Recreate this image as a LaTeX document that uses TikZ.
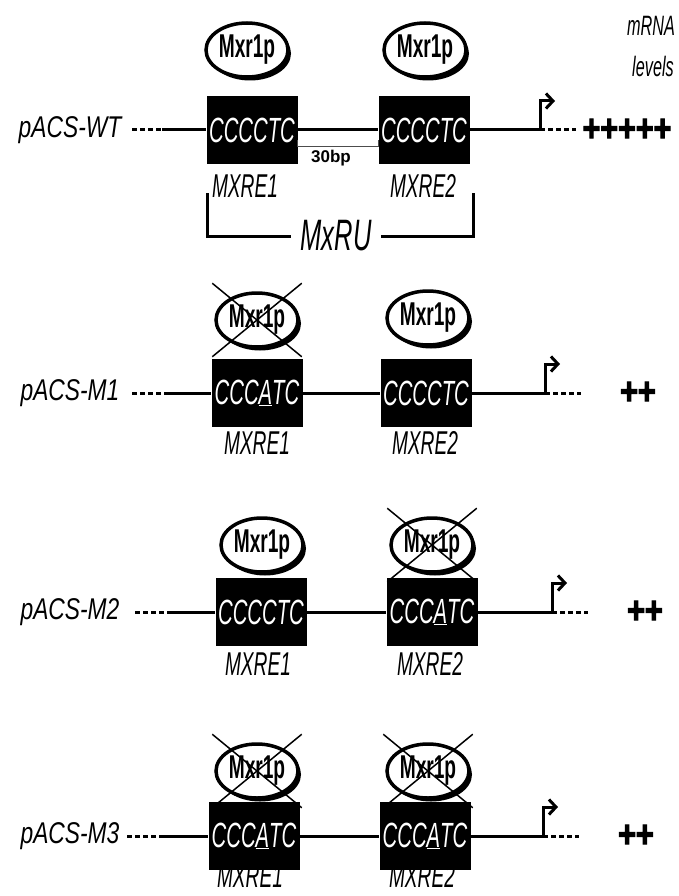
\documentclass[tikz,border=0pt]{standalone}
\usepackage{fontspec}
\setmainfont{Liberation Sans}
\newfontfamily\labelfont[FakeStretch=0.76]{Liberation Sans}
\newfontfamily\narrowfont[FakeStretch=0.58]{Liberation Sans}
\newfontfamily\plusfont[FakeBold=3, FakeStretch=0.8]{Liberation Sans}
\usetikzlibrary{shapes.geometric,shapes.misc,shadows,arrows.meta,positioning}

\tikzset{
 site/.style={rectangle, fill=black, minimum width=91pt, minimum height=68pt, inner sep=0pt,
  text=white, font=\narrowfont\itshape\fontsize{35}{36}\selectfont},
 factor/.style={ellipse, draw, line width=3.5pt, fill=white, minimum width=82pt, minimum height=54pt,
  inner sep=0pt, font=\narrowfont\bfseries\fontsize{33}{34}\selectfont,
  drop shadow={shadow xshift=3pt, shadow yshift=-3.5pt, fill=black, opacity=1}},
 xmark/.style={cross out, draw, line width=1.5pt, minimum width=88pt, minimum height=72pt, inner sep=0pt},
 dna/.style={line width=3pt},
 dashend/.style={line width=3pt, dash pattern=on 5pt off 3pt},
 prom/.style={line width=3pt, -{Straight Barb[length=7pt,width=15pt]}},
 rowlabel/.style={inner sep=0pt, font=\labelfont\itshape\fontsize{30}{31}\selectfont},
 sitelabel/.style={inner sep=0pt, font=\narrowfont\itshape\fontsize{33}{34}\selectfont},
 plus/.style={inner sep=0pt, font=\plusfont\bfseries\fontsize{38}{39}\selectfont}
}

\begin{document}
\begin{tikzpicture}[x=1pt, y=-1pt]
\useasboundingbox (0,0) rectangle (678,896);

% mRNA levels header
\node[sitelabel, font=\narrowfont\itshape\fontsize{28}{29}\selectfont] (head1) at (651,26) {mRNA};
\node[sitelabel, font=\narrowfont\itshape\fontsize{28}{29}\selectfont] (head2) at (653,66) {levels};

% pACS-WT
\node[rowlabel] (wtl) at (70,130) {pACS-WT};
\coordinate (wtd) at (132,130);
\coordinate (wts) at (162,130);
\coordinate (wtp) at (540,130);
\node[site] (wt1) at (252,130) {CCCCTC};
\node[site] (wt2) at (424,130) {CCCCTC};
\node[factor] (wt1f) at (247,50) {Mxr1p};
\node[factor] (wt2f) at (425,50) {Mxr1p};
\draw[dashend] (wtd) -- (wts);
\draw[dna] (wts) -- (wt1) -- (wt2) -- (wtp);
\draw[dashend] (wtp) -- ++(36,0);
\draw[prom] (wtp) -- ++(0,-29) -- ++(15,0);
\node[plus] (wtm) at (627,130) {+++++};
\node[sitelabel] (wt1l) at (245,186) {MXRE1};
\node[sitelabel] (wt2l) at (423,186) {MXRE2};
\draw[black!70, line width=1pt] ([yshift=-10pt]wt1.east) -- ++(0,7) -| ([yshift=-10pt]wt2.west);
\node[inner sep=0pt, font=\bfseries\fontsize{17}{18}\selectfont] (gap) at (331,158) {30bp};
\node[sitelabel, font=\narrowfont\itshape\fontsize{44}{45}\selectfont] (mxru) at (336,236) {MxRU};
\draw[line width=3pt] (207,193) |- ([xshift=-9pt]mxru.west);
\draw[line width=3pt] (473,193) |- ([xshift=9pt]mxru.east);

% pACS-M1
\node[rowlabel] (m1l) at (70,393) {pACS-M1};
\coordinate (m1d) at (132,393);
\coordinate (m1s) at (165,393);
\coordinate (m1p) at (545,393);
\node[site] (m11) at (257,393) {CCC\underline{A}TC};
\node[site] (m12) at (426,393) {CCCCTC};
\node[factor] (m11f) at (257,320) {Mxr1p};
\node[xmark] (m11x) at (m11f) {};
\node[factor] (m12f) at (428,318) {Mxr1p};
\draw[dashend] (m1d) -- (m1s);
\draw[dna] (m1s) -- (m11) -- (m12) -- (m1p);
\draw[dashend] (m1p) -- ++(36,0);
\draw[prom] (m1p) -- ++(0,-29) -- ++(15,0);
\node[plus] (m1m) at (638,393) {++};
\node[sitelabel] (m11l) at (257,443) {MXRE1};
\node[sitelabel] (m12l) at (425,443) {MXRE2};

% pACS-M2
\node[rowlabel] (m2l) at (70,612) {pACS-M2};
\coordinate (m2d) at (135,612);
\coordinate (m2s) at (168,612);
\coordinate (m2p) at (552,612);
\node[site] (m21) at (261,612) {CCCCTC};
\node[site] (m22) at (432,612) {CCC\underline{A}TC};
\node[factor] (m21f) at (262,545) {Mxr1p};
\node[factor] (m22f) at (432,545) {Mxr1p};
\node[xmark] (m22x) at (m22f) {};
\draw[dashend] (m2d) -- (m2s);
\draw[dna] (m2s) -- (m21) -- (m22) -- (m2p);
\draw[dashend] (m2p) -- ++(36,0);
\draw[prom] (m2p) -- ++(0,-29) -- ++(15,0);
\node[plus] (m2m) at (645,612) {++};
\node[sitelabel] (m21l) at (258,664) {MXRE1};
\node[sitelabel] (m22l) at (430,664) {MXRE2};

% pACS-M3
\node[rowlabel] (m3l) at (70,836) {pACS-M3};
\coordinate (m3d) at (127,836);
\coordinate (m3s) at (160,836);
\coordinate (m3p) at (543,836);
\node[site] (m31) at (254,836) {CCC\underline{A}TC};
\node[site] (m32) at (425,836) {CCC\underline{A}TC};
\node[factor] (m31f) at (257,771) {Mxr1p};
\node[xmark] (m31x) at (m31f) {};
\node[factor] (m32f) at (428,771) {Mxr1p};
\node[xmark] (m32x) at (m32f) {};
\draw[dashend] (m3d) -- (m3s);
\draw[dna] (m3s) -- (m31) -- (m32) -- (m3p);
\draw[dashend] (m3p) -- ++(36,0);
\draw[prom] (m3p) -- ++(0,-29) -- ++(15,0);
\node[plus] (m3m) at (636,836) {++};
\node[sitelabel] (m31l) at (250,876) {MXRE1};
\node[sitelabel] (m32l) at (422,876) {MXRE2};

\end{tikzpicture}
\end{document}
